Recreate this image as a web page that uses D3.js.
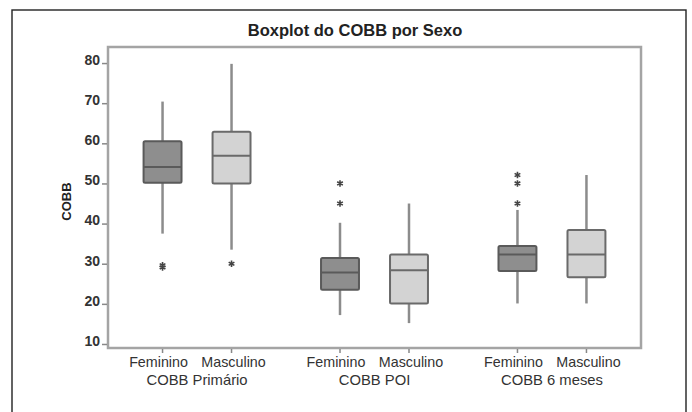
<!DOCTYPE html>
<html><head><meta charset="utf-8">
<script src="https://cdn.jsdelivr.net/npm/d3@7"></script>
<style>
body{margin:0;background:#fff;}
svg{display:block;font-family:"Liberation Sans",Arial,sans-serif;}
</style></head>
<body><svg id="c" width="692" height="412"></svg>
<script>
const groups = ["COBB Primário", "COBB POI", "COBB 6 meses"];
const sexes = ["Feminino", "Masculino"];
// per group: [Feminino, Masculino]
const whiskerLow  = [[37.5, 33.5], [17.2, 15.2], [20.1, 20.1]];
const q1Values    = [[50.2, 50.0], [23.5, 20.1], [28.2, 26.6]];
const medianVals  = [[54.1, 56.9], [27.8, 28.4], [32.3, 32.3]];
const q3Values    = [[60.5, 62.9], [31.4, 32.3], [34.4, 38.4]];
const whiskerHigh = [[70.4, 79.8], [40.2, 45.0], [43.4, 52.1]];
const outliers    = [[[29.6, 29.1], [30.0]], [[45.0, 50.0], []], [[45.0, 50.0, 52.1], []]];
const yTicks = [10, 20, 30, 40, 50, 60, 70, 80];
const title = "Boxplot do COBB por Sexo";
const yLabel = "COBB";

const fills = {Feminino: "#8e8e8e", Masculino: "#d3d3d3"};
const strokes = {Feminino: "#5a5a5a", Masculino: "#6a6a6a"};
const labelShift = {Feminino: -4, Masculino: 2};

const svg = d3.select("#c");
const P = {l: 108, r: 641, t: 47, b: 348};

// outer frame
svg.append("rect").attr("x", 12).attr("y", 10).attr("width", 674).attr("height", 420)
  .attr("fill", "none").attr("stroke", "#222").attr("stroke-width", 1.4);

svg.append("text").attr("x", 355).attr("y", 36).attr("text-anchor", "middle")
  .attr("font-weight", "bold").attr("font-size", 16.5).attr("fill", "#222").text(title);

const y = d3.scaleLinear().domain([9, 84]).range([P.b, P.t]);
const xg = d3.scaleBand().domain(groups).range([P.l, P.r]).paddingInner(0.2225).paddingOuter(0.113);
const xs = d3.scalePoint().domain(sexes).range([0, xg.bandwidth()]).padding(0.5);
const boxW = xs.step() * 0.55;

// plot frame
svg.append("rect").attr("x", P.l).attr("y", P.t).attr("width", P.r - P.l).attr("height", P.b - P.t)
  .attr("fill", "#fff").attr("stroke", "#a4a4a4").attr("stroke-width", 2.5);

// y axis
const yAxis = svg.append("g").attr("transform", `translate(${P.l - 1},0)`)
  .call(d3.axisLeft(y).tickValues(yTicks).tickSize(5).tickPadding(2));
yAxis.select(".domain").remove();
yAxis.selectAll(".tick line").attr("stroke", "#888").attr("stroke-width", 1.5);
yAxis.selectAll(".tick text").attr("font-size", 14).attr("font-weight", "bold")
  .attr("fill", "#333").attr("font-family", "Liberation Sans, Arial, sans-serif").attr("dy", "0.1em");

svg.append("text").attr("transform", `translate(71,${(P.t + P.b) / 2 + 4}) rotate(-90)`)
  .attr("text-anchor", "middle").attr("font-weight", "bold").attr("font-size", 13)
  .attr("fill", "#222").text(yLabel);

// x ticks and labels
const cells = [];
groups.forEach((g, gi) => sexes.forEach((s, si) => cells.push({g, s, gi, si,
  cx: xg(g) + xs(s)})));

svg.selectAll(".xt").data(cells).join("line").attr("class", "xt")
  .attr("x1", d => d.cx).attr("x2", d => d.cx).attr("y1", P.b + 1).attr("y2", P.b + 5)
  .attr("stroke", "#888").attr("stroke-width", 1.5);
svg.selectAll(".xl").data(cells).join("text").attr("class", "xl")
  .attr("x", d => d.cx + labelShift[d.s]).attr("y", 367).attr("text-anchor", "middle")
  .attr("font-size", 14.3).attr("fill", "#333").text(d => d.s);
svg.selectAll(".gl").data(groups).join("text").attr("class", "gl")
  .attr("x", d => xg(d) + xg.bandwidth() / 2).attr("y", 385).attr("text-anchor", "middle")
  .attr("font-size", 14.8).attr("fill", "#333").text(d => d);

// boxes
const bx = svg.append("g");
cells.forEach(d => {
  const {gi, si, cx, s} = d;
  bx.append("line").attr("x1", cx).attr("x2", cx)
    .attr("y1", y(whiskerLow[gi][si])).attr("y2", y(whiskerHigh[gi][si]))
    .attr("stroke", "#8c8c8c").attr("stroke-width", 2.5);
  bx.append("rect").attr("x", cx - boxW / 2).attr("width", boxW)
    .attr("y", y(q3Values[gi][si])).attr("height", y(q1Values[gi][si]) - y(q3Values[gi][si]))
    .attr("fill", fills[s]).attr("stroke", strokes[s]).attr("stroke-width", 2).attr("rx", 1.5);
  bx.append("line").attr("x1", cx - boxW / 2).attr("x2", cx + boxW / 2)
    .attr("y1", y(medianVals[gi][si])).attr("y2", y(medianVals[gi][si]))
    .attr("stroke", strokes[s]).attr("stroke-width", 2);
  const sym = d3.symbol().type(d3.symbolAsterisk).size(30);
  outliers[gi][si].forEach(v => {
    bx.append("path").attr("d", sym()).attr("transform", `translate(${cx},${y(v)})`)
      .attr("fill", "none").attr("stroke", "#444").attr("stroke-width", 1.6);
  });
});
</script></body></html>
